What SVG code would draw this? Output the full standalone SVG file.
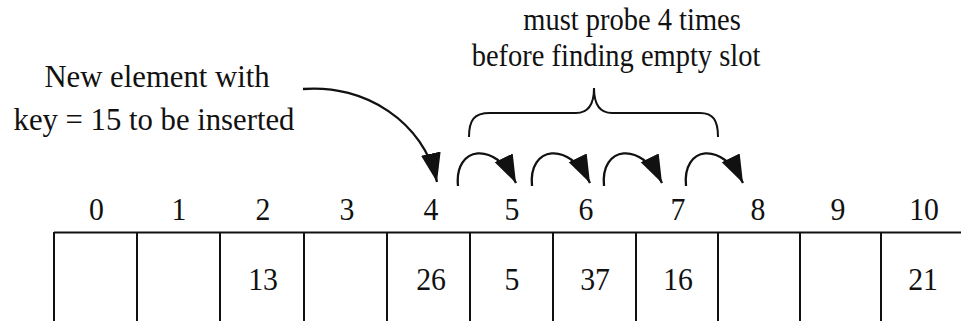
<svg xmlns="http://www.w3.org/2000/svg" width="961" height="321" viewBox="0 0 961 321">
<style>
  .t { font-family: 'Liberation Serif', 'Times New Roman', serif; font-size: 32px; fill: #111; text-anchor: middle; }
  .ln { stroke: #111; stroke-width: 2; fill: none; }
  .arc { stroke: #111; stroke-width: 2.3; fill: none; }
</style>
<defs>
  <marker id="ahS" markerUnits="userSpaceOnUse" markerWidth="31" markerHeight="22" refX="28" refY="10" orient="auto">
    <path d="M0,0 L28,10 L0,20 z" fill="#111"/>
  </marker>
  <marker id="ahL" markerUnits="userSpaceOnUse" markerWidth="32" markerHeight="22" refX="29" refY="10" orient="auto">
    <path d="M0,0 L29,10 L0,20 z" fill="#111"/>
  </marker>
</defs>
<rect width="961" height="321" fill="#fff"/>

<g id="label-new">
  <text class="t" transform="translate(157,87) scale(0.96,1)">New element with</text>
  <text class="t" transform="translate(154,130) scale(0.96,1)">key = 15 to be inserted</text>
</g>
<g id="label-probe">
  <text class="t" transform="translate(632,30) scale(0.89,1)">must probe 4 times</text>
  <text class="t" transform="translate(616,66) scale(0.89,1)">before finding empty slot</text>
</g>
<g id="brace">
  <path class="ln" d="M469,137 C469,120 474,113 490,113 L576,113 C588,113 594,105 594,88 C594,105 600,113 612,113 L700,113 C713,113 718,120 718,137"/>
</g>

<g id="table">
  <path class="ln" d="M54,232.5 L961,232.5"/>
  <path class="ln" d="M54,232 V321 M137,232 V321 M220,232 V321 M304,232 V321 M387,232 V321 M470,232 V321 M553,232 V321 M636,232 V321 M718,232 V321 M800,232 V321 M881,232 V321"/>
</g>
<g id="slot0"><text class="t" transform="translate(96.5,220) scale(0.93,1)">0</text></g>
<g id="slot1"><text class="t" transform="translate(179,220) scale(0.93,1)">1</text></g>
<g id="slot2"><text class="t" transform="translate(263,220) scale(0.93,1)">2</text><text class="t" transform="translate(263,290) scale(0.93,1)">13</text></g>
<g id="slot3"><text class="t" transform="translate(347,220) scale(0.93,1)">3</text></g>
<g id="slot4"><text class="t" transform="translate(431,220) scale(0.93,1)">4</text><text class="t" transform="translate(431,290) scale(0.93,1)">26</text></g>
<g id="slot5"><text class="t" transform="translate(512,220) scale(0.93,1)">5</text><text class="t" transform="translate(512,290) scale(0.93,1)">5</text></g>
<g id="slot6"><text class="t" transform="translate(586,220) scale(0.93,1)">6</text><text class="t" transform="translate(595,290) scale(0.93,1)">37</text></g>
<g id="slot7"><text class="t" transform="translate(678,220) scale(0.93,1)">7</text><text class="t" transform="translate(678,290) scale(0.93,1)">16</text></g>
<g id="slot8"><text class="t" transform="translate(758,220) scale(0.93,1)">8</text></g>
<g id="slot9"><text class="t" transform="translate(838,220) scale(0.93,1)">9</text></g>
<g id="slot10"><text class="t" transform="translate(924,220) scale(0.93,1)">10</text><text class="t" transform="translate(923,290) scale(0.93,1)">21</text></g>

<g id="connectors">
  <path class="arc" marker-end="url(#ahL)" d="M303,89 C365,84 424,122 437,182"/>
  <path class="arc" marker-end="url(#ahS)" d="M458,186 C454,146 495,140 516,183"/>
  <path class="arc" marker-end="url(#ahS)" d="M532,186 C528,146 569,140 590,183"/>
  <path class="arc" marker-end="url(#ahS)" d="M604,186 C600,146 641,140 662,183"/>
  <path class="arc" marker-end="url(#ahS)" d="M686,186 C682,146 722,140 743,183"/>
</g>
</svg>
